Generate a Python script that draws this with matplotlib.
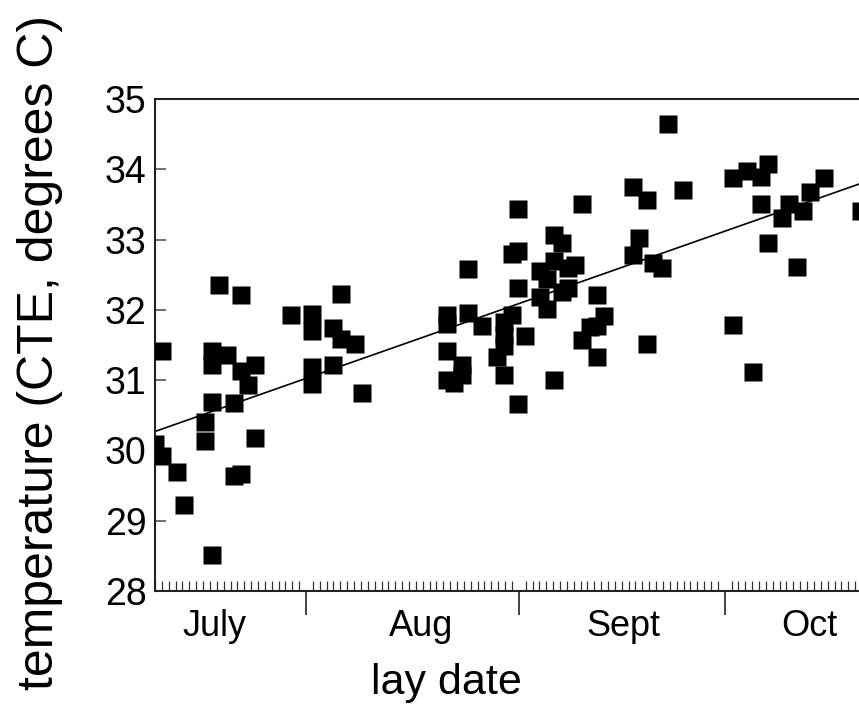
import matplotlib
matplotlib.use("Agg")
import matplotlib.pyplot as plt
import matplotlib.transforms as mtransforms
import numpy as np

plt.rcParams['font.family'] = ['Liberation Sans', 'DejaVu Sans']

# lay date expressed as days since July 1
lay_day = [
    9.0, 10.06, 12.25, 13.27, 10.06, 17.35, 17.35, 17.35, 19.49, 18.37,
    21.6, 21.6, 23.61, 22.62, 17.35, 20.55, 16.33, 16.33, 23.61, 20.55, 21.6,
    28.86, 31.92, 31.92, 31.92, 31.92, 36.03, 34.98, 36.03, 38.18, 34.98, 39.2,
    61.93, 60.97, 61.93, 54.64, 61.93, 65.09, 65.09, 54.64, 51.58, 51.58,
    60.97, 51.58, 53.68, 53.68, 51.58, 52.6, 56.64, 59.89, 59.89, 59.89,
    58.87, 59.89, 62.95, 61.93, 67.17,
    71.25, 78.57, 80.63, 67.17, 68.25, 79.56, 78.57, 81.6, 82.82, 67.17,
    70.19, 69.21, 66.11, 69.21, 68.25, 73.44, 66.11, 74.46, 73.44, 72.37,
    71.25, 73.44, 80.63,
    83.78, 85.88, 93.16, 95.2, 97.24, 98.26, 97.24, 101.41, 100.39, 103.45,
    104.42, 106.51, 111.8, 98.26, 102.49, 93.16, 96.17,
]
temperature = [
    30.09, 29.92, 29.69, 29.23, 31.41, 28.51, 31.42, 31.22, 31.36, 32.36,
    32.21, 31.13, 31.22, 30.93, 30.69, 30.67, 30.41, 30.13, 30.17, 29.63, 29.67,
    31.92, 31.94, 31.70, 31.19, 30.95, 32.23, 31.74, 31.59, 31.51, 31.22, 30.81,
    33.43, 32.80, 32.84, 32.58, 32.31, 32.55, 32.19, 31.95, 31.92, 31.80,
    31.93, 31.41, 31.21, 31.07, 31.00, 30.96, 31.77, 31.83, 31.64, 31.48,
    31.33, 31.07, 31.63, 30.66, 31.00,
    33.50, 33.75, 33.56, 33.06, 32.95, 33.02, 32.78, 32.66, 32.59, 32.70,
    32.64, 32.59, 32.44, 32.31, 32.26, 32.21, 32.01, 31.91, 31.77, 31.76,
    31.57, 31.33, 31.51,
    34.65, 33.70, 33.88, 33.97, 33.89, 34.08, 33.50, 33.50, 33.30, 33.40,
    33.68, 33.88, 33.41, 32.95, 32.61, 31.79, 31.11,
]

# regression line
fit_intercept = 29.961
fit_slope = 0.03432

month_names = ['July', 'Aug', 'Sept', 'Oct']
month_label_pos = [17.74, 47.75, 77.18, 104.3]
month_bounds = [31, 62, 92]
y_ticks = [28, 29, 30, 31, 32, 33, 34, 35]

W, H = 859, 724
fig = plt.figure(figsize=(W / 100, H / 100), dpi=100)
x0_day, x1_day = 9.0, 115.0
px_per_day = 6.864
ax_left = 155 / W
ax_bottom = (H - 591) / H
ax_width = (x1_day - x0_day) * px_per_day / W
ax_height = (591 - 99) / H
ax = fig.add_axes([ax_left, ax_bottom, ax_width, ax_height])

ax.set_xlim(x0_day, x1_day)
ax.set_ylim(28, 35)

# regression line
xs = np.array([x0_day, x1_day])
ax.plot(xs, fit_intercept + fit_slope * xs, color='black', lw=1.2, zorder=2)

ax.plot(lay_day, temperature, linestyle='none', marker='s', markersize=12.3,
        markerfacecolor='black', markeredgecolor='none', zorder=3)

# spines
ax.spines['right'].set_visible(False)
for s in ['left', 'top', 'bottom']:
    ax.spines[s].set_linewidth(1.5)
    ax.spines[s].set_color('#222222')

# y ticks
ax.set_yticks(y_ticks)
ax.set_yticklabels([str(v) for v in y_ticks])
ax.tick_params(axis='y', direction='in', length=8, width=1.2, labelsize=27,
               pad=6, colors='#555555', labelcolor='black')

# x ticks: major at month boundaries (outward), minor daily (inward)
ax.set_xticks(month_bounds)
ax.set_xticklabels([])
ax.set_xticks(np.arange(int(np.ceil(x0_day)), int(x1_day) + 1), minor=True)
ax.tick_params(axis='x', which='major', direction='out', length=17, width=1.2,
               colors='#222222')
ax.tick_params(axis='x', which='minor', direction='in', length=7, width=0.9,
               colors='#333333')

trans = mtransforms.blended_transform_factory(ax.transData, ax.transAxes)
for name, pos in zip(month_names, month_label_pos):
    ax.text(pos, -0.072, name, transform=trans, ha='center', va='center',
            fontsize=26, color='black')

fig.text(446 / W, 1 - 683 / H, 'lay date', ha='center', va='center',
         fontsize=31, color='black')
fig.text(40 / W, 1 - 352 / H, 'temperature (CTE, degrees C)', ha='center',
         va='center', rotation=90, fontsize=36, color='black')

fig.savefig('out.png', dpi=100)
